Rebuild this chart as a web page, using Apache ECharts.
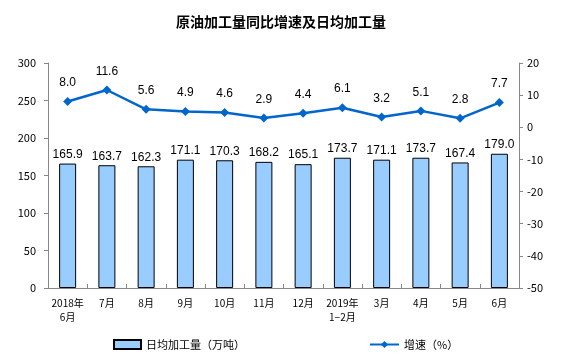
<!DOCTYPE html>
<html><head><meta charset="utf-8">
<script src="https://cdn.jsdelivr.net/npm/echarts@6/dist/echarts.min.js"></script>
<style>html,body{margin:0;padding:0;background:#fff}#c{width:562px;height:358px}</style>
</head><body><div id="c"></div>
<script>
var categories = ['2018年\n6月','7月','8月','9月','10月','11月','12月','2019年\n1−2月','3月','4月','5月','6月'];
var dailyOutput = [165.9,163.7,162.3,171.1,170.3,168.2,165.1,173.7,171.1,173.7,167.4,179.0];
var growthRate = [8.0,11.6,5.6,4.9,4.6,2.9,4.4,6.1,3.2,5.1,2.8,7.7];
var barName = '日均加工量（万吨）';
var lineName = '增速（%）';
var font = 'SimSun, "Noto Sans CJK SC", sans-serif';
var chart = echarts.init(document.getElementById('c'));
chart.setOption({
  animation:false,
  title:{text:'原油加工量同比增速及日均加工量',left:'center',top:10,textStyle:{fontSize:14,fontWeight:'bold',color:'#000',fontFamily:font}},
  grid:{left:48,right:43,top:63,bottom:70},
  legend:[
    {data:[{name:barName,icon:'rect'}],left:108,top:334,itemWidth:27,itemHeight:9,textStyle:{fontSize:11,color:'#000',fontFamily:font}},
    {data:[lineName],left:364,top:334,itemWidth:29,itemHeight:9,textStyle:{fontSize:11,color:'#000',fontFamily:font}}
  ],
  xAxis:{type:'category',data:categories,boundaryGap:true,
    axisLine:{lineStyle:{color:'#888'}},
    axisTick:{show:true,inside:true,length:4,lineStyle:{color:'#888'}},
    axisLabel:{fontSize:10,color:'#000',fontFamily:font,margin:8,lineHeight:14,interval:0}},
  yAxis:[
    {type:'value',min:0,max:300,interval:50,splitLine:{show:false},
     axisLine:{show:true,lineStyle:{color:'#888'}},axisTick:{show:true,length:4,lineStyle:{color:'#888'}},
     axisLabel:{fontSize:11,color:'#000',fontFamily:font,margin:12}},
    {type:'value',min:-50,max:20,interval:10,splitLine:{show:false},
     axisLine:{show:true,lineStyle:{color:'#888'}},axisTick:{show:true,length:4,lineStyle:{color:'#888'}},
     axisLabel:{fontSize:11,color:'#000',fontFamily:font,margin:8}}
  ],
  series:[
    {name:barName,type:'bar',data:dailyOutput,barWidth:17,yAxisIndex:0,
     itemStyle:{color:'#99CCFF',borderColor:'#000',borderWidth:1},
     label:{show:true,position:'top',distance:3,fontSize:12,color:'#000',fontFamily:'Arial, "Liberation Sans", sans-serif',formatter:function(p){return p.value.toFixed(1);}}},
    {name:lineName,type:'line',data:growthRate,yAxisIndex:1,symbol:'diamond',symbolSize:9,
     lineStyle:{color:'#0066CC',width:2.5},itemStyle:{color:'#0066CC'},
     label:{show:true,position:'top',distance:8,fontSize:12,color:'#000',fontFamily:'Arial, "Liberation Sans", sans-serif',formatter:function(p){return p.value.toFixed(1);}}}
  ]
});
</script></body></html>
